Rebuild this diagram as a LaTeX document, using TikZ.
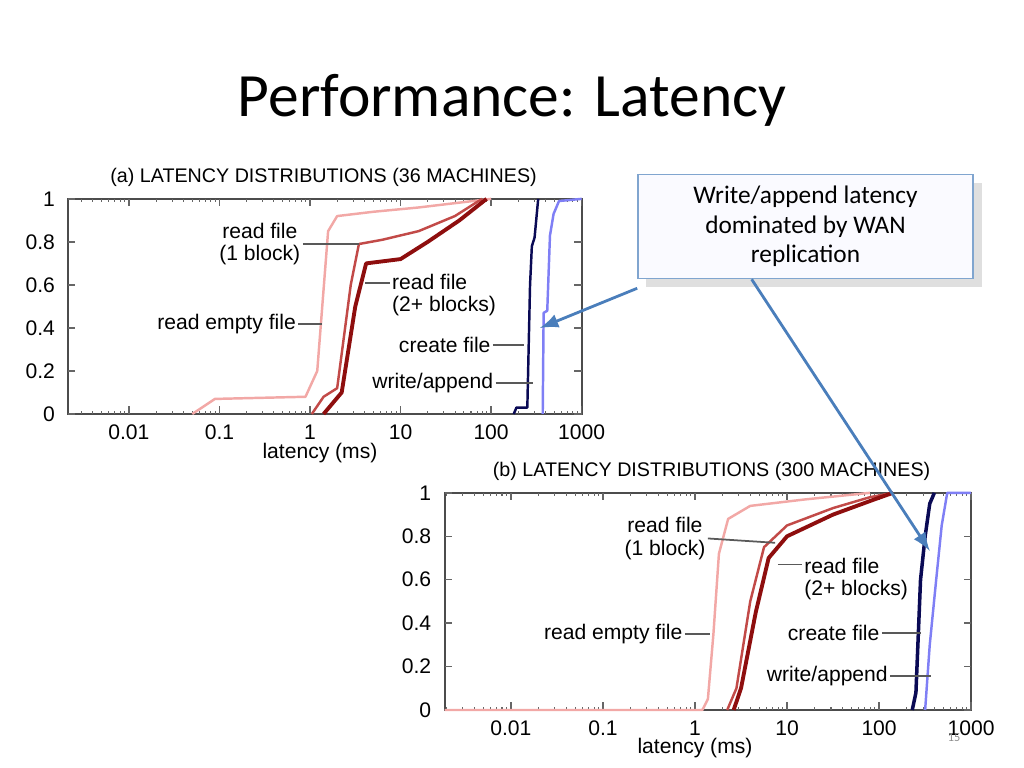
\documentclass[tikz,border=0pt]{standalone}
\usepackage{fontspec}
\setmainfont{Carlito}
\newfontfamily\plotfont{Liberation Sans}
\usetikzlibrary{calc,shadows}
\definecolor{emptyred}{HTML}{F2A8A6}
\definecolor{oneblock}{HTML}{C24A48}
\definecolor{twoblock}{HTML}{8E0E0E}
\definecolor{createnavy}{HTML}{0A0A55}
\definecolor{writeblue}{HTML}{7F7FF5}
\definecolor{callblue}{HTML}{4A7EBB}
\tikzset{
	plottext/.style={font=\plotfont\fontsize{6}{6.3}\selectfont, inner sep=0.5pt},
	ticktext/.style={font=\plotfont\fontsize{6}{6}\selectfont, inner sep=1pt},
	leader/.style={draw=black!65, line width=0.5pt},
	curve/.style={line width=0.7pt, line join=round}
}
% frame, ticks and tick labels of one chart; #1 = left edge (decades)
\newcommand\latframe[1]{
	\draw[black!70, line width=0.6pt] (#1,0) rectangle (3,1);
	\foreach \d in {-3,...,2}
		\foreach \k in {2,...,9}{
			\pgfmathsetmacro\tx{\d+log10(\k)}
			\ifdim\tx pt>#1pt
				\draw[black!60, line width=0.3pt] (\tx,0) -- ++(0,0.015) (\tx,1) -- ++(0,-0.015);
			\fi}
	\foreach \d/\lab in {-2/0.01,-1/0.1,0/1,1/10,2/100,3/1000}{
		\draw[black!60, line width=0.4pt] (\d,0) -- ++(0,0.035) (\d,1) -- ++(0,-0.035);
		\node[ticktext, anchor=north] (xt\d) at (\d,-0.03) {\lab};}
	\foreach \v/\lab in {0/0,0.2/0.2,0.4/0.4,0.6/0.6,0.8/0.8,1/1}{
		\draw[black!60, line width=0.4pt] (#1,\v) -- ++(0.08,0) (3,\v) -- ++(-0.08,0);
		\node[ticktext, anchor=east] (yt\v) at ($(#1,\v)+(-0.1,0)$) {\lab};}
}
\begin{document}
\begin{tikzpicture}[x=0.01cm, y=-0.01cm]
	\useasboundingbox (0,0) rectangle (1024,768);
	\node[font=\fontsize{17.5}{19}\selectfont] (title) at (512,100) {Performance: Latency};
	% chart (a)
	\begin{scope}[shift={(310,414)}, x=0.905cm, y=2.15cm]
		\latframe{-2.67}
		\node[plottext, font=\plotfont\fontsize{5.6}{6}\selectfont] (ta) at (0.15,1.1) {(a) LATENCY DISTRIBUTIONS (36 MACHINES)};
		\node[plottext] (xa) at (0.11,-0.18) {latency (ms)};
		\draw[curve, emptyred] (-1.3,0) -- (-1.05,0.07) -- (-0.05,0.08) -- (0.08,0.2) -- (0.2,0.85) -- (0.3,0.92) -- (0.7,0.94) -- (1.2,0.96) -- (1.8,0.99) -- (2.0,1);
		\draw[curve, oneblock] (0.02,0) -- (0.15,0.08) -- (0.3,0.12) -- (0.45,0.6) -- (0.54,0.79) -- (0.8,0.81) -- (1.2,0.85) -- (1.6,0.92) -- (1.9,1);
		\draw[curve, twoblock, line width=1.1pt] (0.15,0) -- (0.35,0.1) -- (0.5,0.5) -- (0.62,0.7) -- (1.0,0.72) -- (1.3,0.8) -- (1.65,0.9) -- (1.95,1);
		\draw[curve, createnavy] (2.25,0) -- (2.28,0.03) -- (2.4,0.03) -- (2.43,0.6) -- (2.45,0.78) -- (2.48,0.82) -- (2.52,1);
		\draw[curve, writeblue] (2.57,0) -- (2.58,0.47) -- (2.62,0.48) -- (2.65,0.83) -- (2.69,0.93) -- (2.75,0.99) -- (3,1);
		\coordinate (ca1) at (0.54,0.79);
		\coordinate (ca2) at (0.61,0.61);
		\coordinate (cae) at (0.13,0.42);
		\coordinate (cac) at (2.36,0.32);
		\coordinate (caw) at (2.46,0.145);
		\coordinate (arra) at (2.54,0.40);
		\node[plottext, anchor=east, align=center] (la1) at (-0.08,0.79) {read file\\(1 block)};
		\node[plottext, anchor=north west, align=left] (la2) at (0.88,0.66) {read file\\(2+ blocks)};
		\node[plottext, anchor=east] (lae) at (-0.13,0.42) {read empty file};
		\node[plottext, anchor=east] (lac) at (2.02,0.32) {create file};
		\node[plottext, anchor=east] (law) at (2.05,0.145) {write/append};
		\draw[leader] (la1.east) -- (ca1);
		\draw[leader] (ca2) -- (ca2 -| la2.west);
		\draw[leader] (lae.east) -- (cae);
		\draw[leader] (lac.east) -- (cac);
		\draw[leader] (law.east) -- (caw);
	\end{scope}
	% chart (b)
	\begin{scope}[shift={(695,710)}, x=0.92cm, y=2.17cm]
		\latframe{-2.72}
		\node[plottext, font=\plotfont\fontsize{5.6}{6}\selectfont] (tb) at (0.18,1.1) {(b) LATENCY DISTRIBUTIONS (300 MACHINES)};
		\node[plottext] (xb) at (0,-0.175) {latency (ms)};
		\draw[curve, emptyred] (-2.72,0) -- (0.08,0) -- (0.14,0.05) -- (0.2,0.35) -- (0.26,0.72) -- (0.36,0.88) -- (0.6,0.94) -- (1.2,0.97) -- (1.9,1);
		\draw[curve, oneblock] (0.35,0) -- (0.45,0.1) -- (0.6,0.5) -- (0.75,0.75) -- (1.0,0.85) -- (1.5,0.93) -- (1.9,0.98) -- (2.15,1);
		\draw[curve, twoblock, line width=1.1pt] (0.42,0) -- (0.5,0.1) -- (0.66,0.45) -- (0.8,0.7) -- (1.0,0.8) -- (1.5,0.9) -- (1.95,0.97) -- (2.15,1);
		\draw[curve, createnavy, line width=1pt] (2.36,0) -- (2.4,0.08) -- (2.45,0.6) -- (2.5,0.8) -- (2.55,0.95) -- (2.6,1);
		\draw[curve, writeblue] (2.5,0) -- (2.55,0.3) -- (2.62,0.6) -- (2.68,0.85) -- (2.74,1) -- (3,1);
		\coordinate (cb1) at (0.87,0.77);
		\coordinate (cb2) at (0.9,0.67);
		\coordinate (cbe) at (0.16,0.35);
		\coordinate (cbc) at (2.45,0.355);
		\coordinate (cbw) at (2.56,0.157);
		\coordinate (arrb) at (2.55,0.733);
		\node[plottext, anchor=east, align=center] (lb1) at (0.14,0.79) {read file\\(1 block)};
		\node[plottext, anchor=north west, align=left] (lb2) at (1.16,0.71) {read file\\(2+ blocks)};
		\node[plottext, anchor=east] (lbe) at (-0.11,0.35) {read empty file};
		\node[plottext, anchor=east] (lbc) at (2.03,0.355) {create file};
		\node[plottext, anchor=east] (lbw) at (2.12,0.157) {write/append};
		\draw[leader] (lb1.east) -- (cb1);
		\draw[leader] (cb2) -- (cb2 -| lb2.west);
		\draw[leader] (lbe.east) -- (cbe);
		\draw[leader] (lbc.east) -- (cbc);
		\draw[leader] (lbw.east) -- (cbw);
	\end{scope}
	% callout
	\node[draw=callblue!70, fill=blue!2, drop shadow={opacity=0.25}, minimum width=3.35cm, minimum height=1.01cm,
		align=center, font=\fontsize{7.2}{8.4}\selectfont] (note) at (805.5,226.5)
		{Write/append latency\\dominated by WAN\\replication};
	\draw[-latex, callblue, line width=0.8pt] ($(note.south west)+(0,9)$) -- (arra);
	\draw[-latex, callblue, line width=0.8pt] ($(note.south west)!0.34!(note.south east)$) -- (arrb);
	\node[text=black!45, font=\fontsize{3.5}{4}\selectfont] (page) at (954,738) {15};
\end{tikzpicture}
\end{document}
